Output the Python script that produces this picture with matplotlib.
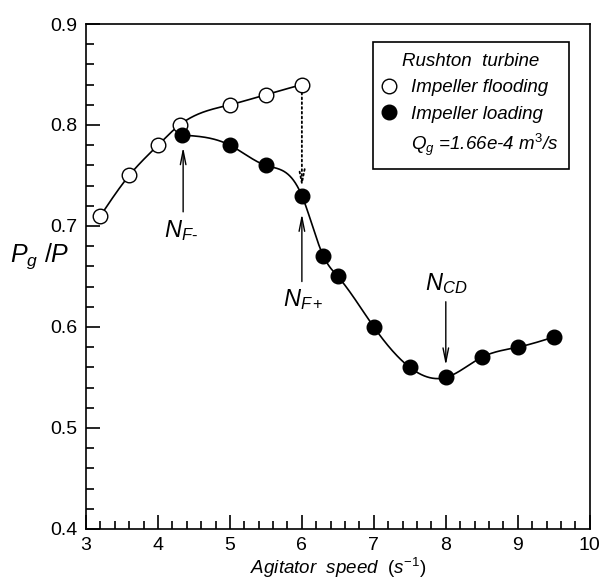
import numpy as np
import matplotlib
matplotlib.use('Agg')
import matplotlib.pyplot as plt
from matplotlib.lines import Line2D

plt.rcParams['font.family'] = ['Liberation Sans', 'DejaVu Sans']
plt.rcParams['mathtext.fontset'] = 'custom'
plt.rcParams['mathtext.rm'] = 'Liberation Sans'
plt.rcParams['mathtext.it'] = 'Liberation Sans:italic'

# Impeller flooding (open circles)
flood_speed = [3.2, 3.6, 4.0, 4.3, 5.0, 5.5, 6.0]
flood_pg = [0.71, 0.75, 0.78, 0.80, 0.82, 0.83, 0.84]

# Impeller loading (filled circles)
load_speed = [4.33, 5.0, 5.5, 6.0, 6.3, 6.5, 7.0, 7.5, 8.0, 8.5, 9.0, 9.5]
load_pg = [0.79, 0.78, 0.76, 0.73, 0.67, 0.65, 0.60, 0.56, 0.55, 0.57, 0.58, 0.59]


# natural cubic spline through the points, for the drawn curve only
def smooth(xs, ys, n=400):
    x = np.asarray(xs, float)
    y = np.asarray(ys, float)
    k = len(x)
    h = np.diff(x)
    A = np.zeros((k, k))
    r = np.zeros(k)
    A[0, 0] = A[-1, -1] = 1
    for i in range(1, k - 1):
        A[i, i - 1] = h[i - 1]
        A[i, i] = 2 * (h[i - 1] + h[i])
        A[i, i + 1] = h[i]
        r[i] = 3 * ((y[i + 1] - y[i]) / h[i] - (y[i] - y[i - 1]) / h[i - 1])
    c = np.linalg.solve(A, r)
    b = (y[1:] - y[:-1]) / h - h * (2 * c[:-1] + c[1:]) / 3
    d = (c[1:] - c[:-1]) / (3 * h)
    xx = np.linspace(x[0], x[-1], n)
    j = np.clip(np.searchsorted(x, xx) - 1, 0, k - 2)
    dx = xx - x[j]
    yy = y[j] + b[j] * dx + c[j] * dx ** 2 + d[j] * dx ** 3
    return xx, yy


fig = plt.figure(figsize=(6.03, 5.84), dpi=100)
ax = fig.add_axes([0.1426, 0.0942, 0.8354, 0.8647])

fx, fy = smooth(flood_speed, flood_pg)
lx, ly = smooth(load_speed, load_pg)
ax.plot(fx, fy, color='black', lw=1.2, zorder=2)
ax.plot(lx, ly, color='black', lw=1.2, zorder=2)
h_open, = ax.plot(flood_speed, flood_pg, 'o', ms=10.5, mfc='white', mec='black', mew=1.0, zorder=3)
h_fill, = ax.plot(load_speed, load_pg, 'o', ms=10.5, mfc='black', mec='black', zorder=4)

# dotted drop from flooding to loading at N = 6
ax.annotate('', xy=(6.0, 0.738), xytext=(6.0, 0.832),
            arrowprops=dict(arrowstyle='->,head_length=1.0,head_width=0.2', lw=1.3,
                            linestyle=':', color='black', shrinkA=0, shrinkB=0))

arr = dict(arrowstyle='->,head_length=1.0,head_width=0.2', lw=1.0, color='black',
           shrinkA=0, shrinkB=0)
ax.annotate('', xy=(4.35, 0.778), xytext=(4.35, 0.714), arrowprops=arr)
ax.text(4.32, 0.695, r'$N_{F\text{-}}$', fontsize=17, ha='center', va='center')

ax.annotate('', xy=(6.0, 0.712), xytext=(6.0, 0.645), arrowprops=arr)
ax.text(6.02, 0.627, r'$N_{F+}$', fontsize=17, ha='center', va='center')

ax.annotate('', xy=(8.0, 0.562), xytext=(8.0, 0.625), arrowprops=arr)
ax.text(8.0, 0.643, r'$N_{CD}$', fontsize=17, ha='center', va='center')

ax.set_xlim(3, 10)
ax.set_ylim(0.4, 0.9)
ax.set_xticks(np.arange(3, 11, 1))
ax.set_xticks(np.arange(3, 10.01, 0.2), minor=True)
ax.set_yticks(np.arange(0.4, 0.91, 0.1))
ax.set_yticks(np.arange(0.4, 0.901, 0.02), minor=True)
ax.set_xticklabels([str(v) for v in range(3, 11)])
ax.set_yticklabels(['0.4', '0.5', '0.6', '0.7', '0.8', '0.9'])
ax.tick_params(which='both', direction='in', top=False, right=False, width=1.2,
               labelsize=14, colors='black')
ax.tick_params(which='major', length=10, pad=6)
ax.tick_params(which='minor', length=6)
for s in ax.spines.values():
    s.set_linewidth(1.2)

ax.set_xlabel(r'$Agitator\ \ speed\ \ (s^{-1})$', fontsize=13.5, labelpad=1)
ax.set_ylabel(r'$P_g\ /P$', fontsize=18, rotation=0, va='center', ha='center')
ax.yaxis.set_label_coords(-0.092, 0.54)

blank = Line2D([], [], color='none')
leg = ax.legend([h_open, h_fill, blank],
                ['Impeller flooding', 'Impeller loading', r'$Q_g$ =1.66e-4 $m^3$/s'],
                title='Rushton  turbine', loc='upper right', bbox_to_anchor=(0.978, 0.982),
                fancybox=False, edgecolor='black', framealpha=1, handlelength=0.6,
                handletextpad=0.9, borderpad=0.55, labelspacing=0.5,
                prop={'style': 'italic', 'size': 13.5})
leg.get_title().set_fontstyle('italic')
leg.get_title().set_fontsize(13.5)
leg.get_frame().set_linewidth(1.2)

fig.savefig('out.png', dpi=100)
